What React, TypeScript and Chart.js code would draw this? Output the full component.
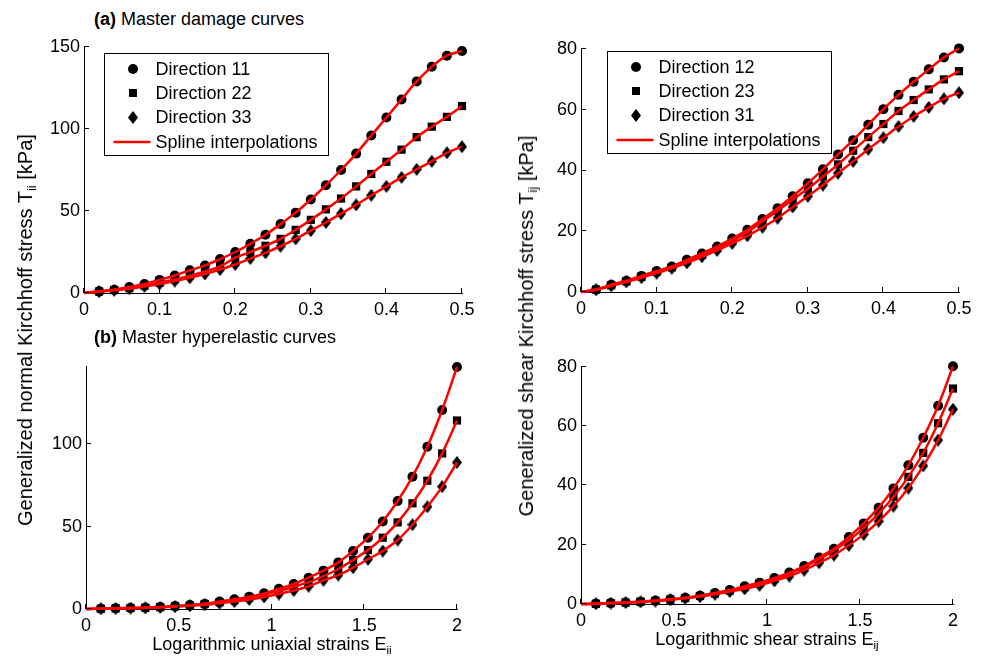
import React, { useEffect, useRef } from "react";
import { Chart, registerables } from "chart.js";

Chart.register(...registerables);

const FONT = '"Liberation Sans", Arial, Helvetica, sans-serif';

// ---------- data ----------
const STRAIN_DAMAGE = [0.02, 0.04, 0.06, 0.08, 0.1, 0.12, 0.14, 0.16, 0.18, 0.2, 0.22, 0.24, 0.26, 0.28, 0.3, 0.32, 0.34, 0.36, 0.38, 0.4, 0.42, 0.44, 0.46, 0.48, 0.5];
const STRAIN_HYPER = [0.08, 0.16, 0.24, 0.32, 0.4, 0.48, 0.56, 0.64, 0.72, 0.8, 0.88, 0.96, 1.04, 1.12, 1.2, 1.28, 1.36, 1.44, 1.52, 1.6, 1.68, 1.76, 1.84, 1.92, 2.0];

const D11_DAMAGE = [1.0, 2.0, 3.6, 5.5, 8.0, 10.7, 13.8, 16.8, 20.7, 25.0, 30.0, 35.5, 42.0, 49.0, 57.0, 65.7, 75.0, 85.0, 96.0, 107.0, 118.0, 129.0, 138.0, 144.7, 147.6];
const D22_DAMAGE = [0.9, 1.8, 3.0, 4.5, 6.3, 8.3, 10.6, 13.2, 16.2, 21.5, 25.0, 28.8, 33.0, 38.5, 44.6, 51.0, 57.6, 65.0, 72.6, 80.0, 87.4, 95.0, 101.4, 107.4, 114.0];
const D33_DAMAGE = [0.8, 1.6, 2.6, 4.0, 5.5, 7.3, 9.3, 11.6, 14.3, 17.4, 21.0, 24.5, 28.5, 33.0, 38.0, 43.0, 48.4, 53.7, 59.6, 65.0, 70.5, 75.4, 80.3, 85.5, 89.2];

const D12_DAMAGE = [0.8, 2.4, 3.7, 5.3, 6.9, 8.4, 10.6, 12.7, 15.0, 17.6, 20.5, 24.0, 27.6, 31.5, 35.8, 40.4, 45.3, 50.0, 55.1, 60.2, 64.9, 69.2, 73.3, 77.2, 80.2];
const D23_DAMAGE = [0.8, 2.2, 3.5, 5.0, 6.6, 8.1, 10.1, 12.2, 14.4, 16.9, 19.7, 23.3, 26.7, 30.4, 34.0, 38.0, 42.0, 46.5, 51.0, 55.3, 59.6, 63.2, 66.7, 70.0, 72.7];
const D31_DAMAGE = [0.7, 2.0, 3.3, 4.7, 6.2, 7.8, 9.6, 11.6, 13.7, 16.0, 18.5, 21.3, 24.3, 28.0, 31.5, 35.2, 39.1, 43.0, 47.0, 50.8, 54.5, 57.8, 60.8, 63.6, 65.6];

const D11_HYPER = [0.2, 0.4, 0.6, 0.8, 1.2, 1.8, 2.4, 3.2, 4.5, 5.9, 7.5, 9.5, 12.3, 15.2, 19.0, 23.3, 28.3, 35.2, 43.3, 53.2, 65.6, 80.4, 98.6, 120.9, 147.0];
const D22_HYPER = [0.2, 0.4, 0.6, 0.8, 1.1, 1.6, 2.2, 3.0, 4.1, 5.3, 6.9, 8.8, 10.9, 13.5, 16.3, 20.0, 24.3, 29.8, 35.8, 43.3, 52.6, 64.2, 77.9, 94.5, 114.5];
const D33_HYPER = [0.2, 0.3, 0.5, 0.7, 1.0, 1.4, 1.9, 2.6, 3.5, 4.5, 5.8, 7.3, 9.1, 11.2, 13.8, 17.4, 20.6, 25.1, 30.2, 35.2, 41.9, 51.2, 62.1, 74.3, 89.0];

const D12_HYPER = [0.1, 0.3, 0.5, 0.8, 1.1, 1.6, 2.1, 2.8, 3.7, 4.7, 6.0, 7.2, 8.8, 10.6, 12.8, 15.7, 18.6, 22.6, 27.2, 32.5, 39.0, 46.8, 56.1, 66.9, 80.2];
const D23_HYPER = [0.1, 0.3, 0.5, 0.8, 1.1, 1.5, 2.0, 2.7, 3.5, 4.5, 5.7, 7.0, 8.5, 10.3, 12.5, 15.1, 18.1, 21.5, 25.7, 30.5, 36.2, 42.9, 51.0, 61.0, 72.7];
const D31_HYPER = [0.1, 0.3, 0.5, 0.7, 1.0, 1.4, 1.9, 2.5, 3.3, 4.2, 5.1, 6.3, 7.8, 9.4, 11.4, 13.9, 16.5, 19.8, 23.5, 27.9, 33.0, 39.1, 46.6, 55.3, 65.7];

const X_TICKS_DAMAGE = [0, 0.1, 0.2, 0.3, 0.4, 0.5];
const X_TICKS_HYPER = [0, 0.5, 1, 1.5, 2];
const Y_TICKS_NORMAL_DAMAGE = [0, 50, 100, 150];
const Y_TICKS_NORMAL_HYPER = [0, 50, 100];
const Y_TICKS_SHEAR = [0, 20, 40, 60, 80];

const LEGEND_NORMAL = ["Direction 11", "Direction 22", "Direction 33", "Spline interpolations"];
const LEGEND_SHEAR = ["Direction 12", "Direction 23", "Direction 31", "Spline interpolations"];

// ---------- layout ----------
type Box = { x: number; y: number; w: number; h: number };
type Area = { l: number; t: number; r: number; b: number };
type Panel = {
  xs: number[];
  series: number[][];
  xMax: number;
  yMax: number;
  xTicks: number[];
  yTicks: number[];
  legend?: string[];
  legendOffset?: { dx: number; dy: number };
  canvas: Box;
  area: Area;
};

const PANELS: Panel[] = [
  {
    xs: STRAIN_DAMAGE, series: [D11_DAMAGE, D22_DAMAGE, D33_DAMAGE], xMax: 0.5, yMax: 150,
    xTicks: X_TICKS_DAMAGE, yTicks: Y_TICKS_NORMAL_DAMAGE, legend: LEGEND_NORMAL, legendOffset: { dx: 20, dy: 6 },
    canvas: { x: 0, y: 30, w: 490, h: 300 }, area: { l: 84, t: 47, r: 462, b: 293 },
  },
  {
    xs: STRAIN_DAMAGE, series: [D12_DAMAGE, D23_DAMAGE, D31_DAMAGE], xMax: 0.5, yMax: 80,
    xTicks: X_TICKS_DAMAGE, yTicks: Y_TICKS_SHEAR, legend: LEGEND_SHEAR, legendOffset: { dx: 26, dy: 2 },
    canvas: { x: 490, y: 30, w: 491, h: 300 }, area: { l: 581, t: 49, r: 959, b: 292 },
  },
  {
    xs: STRAIN_HYPER, series: [D11_HYPER, D22_HYPER, D33_HYPER], xMax: 2, yMax: 147.6,
    xTicks: X_TICKS_HYPER, yTicks: Y_TICKS_NORMAL_HYPER,
    canvas: { x: 0, y: 340, w: 490, h: 300 }, area: { l: 86, t: 366, r: 457, b: 609 },
  },
  {
    xs: STRAIN_HYPER, series: [D12_HYPER, D23_HYPER, D31_HYPER], xMax: 2, yMax: 80.3,
    xTicks: X_TICKS_HYPER, yTicks: Y_TICKS_SHEAR,
    canvas: { x: 490, y: 340, w: 491, h: 300 }, area: { l: 581, t: 366, r: 953, b: 604 },
  },
];

function makeDiamond(): HTMLCanvasElement {
  const c = document.createElement("canvas");
  c.width = 10;
  c.height = 13;
  const g = c.getContext("2d")!;
  g.fillStyle = "#000";
  g.beginPath();
  g.moveTo(5, 0);
  g.lineTo(10, 6.5);
  g.lineTo(5, 13);
  g.lineTo(0, 6.5);
  g.closePath();
  g.fill();
  return c;
}

const inwardTicks = {
  id: "inwardTicks",
  afterDraw(chart: any) {
    const { ctx, chartArea: a, scales } = chart;
    const x = scales.x;
    const y = scales.y;
    ctx.save();
    ctx.strokeStyle = "#000";
    ctx.lineWidth = 1;
    ctx.beginPath();
    for (const t of x.ticks) {
      const px = Math.round(x.getPixelForValue(t.value)) - 0.5;
      ctx.moveTo(px, a.bottom);
      ctx.lineTo(px, a.bottom - 5);
    }
    for (const t of y.ticks) {
      const py = Math.round(y.getPixelForValue(t.value)) - 0.5;
      ctx.moveTo(a.left, py);
      ctx.lineTo(a.left + 5, py);
    }
    ctx.stroke();
    ctx.restore();
  },
};

function drawLegendMarker(ctx: CanvasRenderingContext2D, i: number, cx: number, cy: number, diamond: HTMLCanvasElement) {
  ctx.fillStyle = "#000";
  if (i === 0) {
    ctx.beginPath();
    ctx.arc(cx, cy, 5, 0, Math.PI * 2);
    ctx.fill();
  } else if (i === 1) {
    ctx.fillRect(cx - 4, cy - 4, 8, 8);
  } else {
    ctx.drawImage(diamond, Math.round(cx - diamond.width / 2), Math.round(cy - diamond.height / 2));
  }
}

function boxLegendPlugin(diamond: HTMLCanvasElement) {
  return {
    id: "boxLegend",
    afterDraw(chart: any, _args: any, opts: any) {
      if (!opts || !opts.labels) return;
      const { ctx, chartArea: a } = chart;
      const x0 = Math.round(a.left + opts.dx) + 0.5;
      const y0 = Math.round(a.top + opts.dy) + 0.5;
      const w = 224;
      const h = 102;
      ctx.save();
      ctx.fillStyle = "#fff";
      ctx.fillRect(x0, y0, w, h);
      ctx.strokeStyle = "#000";
      ctx.lineWidth = 1;
      ctx.strokeRect(x0, y0, w, h);
      ctx.font = `18px ${FONT}`;
      ctx.textBaseline = "middle";
      ctx.textAlign = "left";
      opts.labels.forEach((label: string, i: number) => {
        const cy = Math.round(y0 + 15 + i * 24.4);
        if (i < 3) {
          drawLegendMarker(ctx, i, Math.round(x0 + 28), cy, diamond);
        } else {
          ctx.save();
          ctx.strokeStyle = "#ff0000";
          ctx.lineWidth = 2.5;
          ctx.beginPath();
          ctx.moveTo(x0 + 9, cy);
          ctx.lineTo(x0 + 46, cy);
          ctx.stroke();
          ctx.restore();
        }
        ctx.fillStyle = "#000";
        ctx.fillText(label, x0 + 51, cy + 1);
      });
      ctx.restore();
    },
  };
}

function buildConfig(p: Panel, diamond: HTMLCanvasElement): any {
  const datasets: any[] = [];
  const markerStyles: any[] = [
    { pointStyle: "circle", pointRadius: 5 },
    { pointStyle: "rect", pointRadius: 5.8 },
    { pointStyle: diamond, pointRadius: 6 },
  ];
  p.series.forEach((s, i) => {
    datasets.push({
      label: `m${i}`,
      data: p.xs.map((x, j) => ({ x, y: s[j] })),
      showLine: false,
      ...markerStyles[i],
      pointBackgroundColor: "#000",
      pointBorderColor: "#000",
      pointBorderWidth: 0,
      order: 2,
      clip: false,
    });
  });
  p.series.forEach((s, i) => {
    datasets.push({
      label: `s${i}`,
      data: [{ x: 0, y: 0 }, ...p.xs.map((x, j) => ({ x, y: s[j] }))],
      showLine: true,
      borderColor: "#ff0000",
      borderWidth: 2.5,
      pointRadius: 0,
      cubicInterpolationMode: "monotone",
      order: 1,
      clip: false,
    });
  });
  const cv = p.canvas;
  const ar = p.area;
  const tickFont = { family: FONT, size: 18 };
  return {
    type: "scatter",
    data: { datasets },
    options: {
      animation: false,
      responsive: false,
      events: [],
      layout: {
        padding: { left: 0, top: ar.t - cv.y, right: cv.x + cv.w - ar.r, bottom: 0 },
      },
      scales: {
        x: {
          type: "linear",
          min: 0,
          max: p.xMax,
          afterBuildTicks: (s: any) => {
            s.ticks = p.xTicks.map((v) => ({ value: v }));
          },
          afterFit: (s: any) => {
            s.height = cv.y + cv.h - ar.b;
          },
          grid: { display: true, drawOnChartArea: false, drawTicks: false },
          border: { display: true, color: "#000", width: 1 },
          ticks: {
            color: "#000",
            font: tickFont,
            padding: 6,
            autoSkip: false,
            maxRotation: 0,
            callback: (v: number) => String(v),
          },
        },
        y: {
          type: "linear",
          min: 0,
          max: p.yMax,
          afterBuildTicks: (s: any) => {
            s.ticks = p.yTicks.map((v) => ({ value: v }));
          },
          afterFit: (s: any) => {
            s.width = ar.l - cv.x;
          },
          grid: { display: true, drawOnChartArea: false, drawTicks: false },
          border: { display: true, color: "#000", width: 1 },
          ticks: {
            color: "#000",
            font: tickFont,
            padding: 4,
            autoSkip: false,
            callback: (v: number) => String(v),
          },
        },
      },
      plugins: {
        legend: { display: false },
        tooltip: { enabled: false },
        boxLegend: p.legend ? { labels: p.legend, dx: p.legendOffset!.dx, dy: p.legendOffset!.dy } : {},
      },
    },
    plugins: [inwardTicks, boxLegendPlugin(diamond)],
  };
}

const subStyle: React.CSSProperties = { fontSize: "0.65em", verticalAlign: "-0.3em", lineHeight: 0 };

export default function App() {
  const canvases = useRef<(HTMLCanvasElement | null)[]>([]);

  useEffect(() => {
    const diamond = makeDiamond();
    const charts = PANELS.map((p, i) => new Chart(canvases.current[i]!, buildConfig(p, diamond)));
    return () => charts.forEach((c) => c.destroy());
  }, []);

  const textBase: React.CSSProperties = {
    position: "absolute",
    fontFamily: FONT,
    fontSize: "18px",
    lineHeight: 1,
    whiteSpace: "nowrap",
    color: "#000",
  };

  return (
    <div style={{ position: "absolute", left: 0, top: 0, width: 981, height: 657, background: "#fff", overflow: "hidden" }}>
      {PANELS.map((p, i) => (
        <canvas
          key={i}
          ref={(el) => {
            canvases.current[i] = el;
          }}
          width={p.canvas.w}
          height={p.canvas.h}
          style={{ position: "absolute", left: p.canvas.x, top: p.canvas.y, width: p.canvas.w, height: p.canvas.h }}
        />
      ))}
      <div style={{ ...textBase, left: 94, top: 10 }}>
        <b>(a)</b> Master damage curves
      </div>
      <div style={{ ...textBase, left: 94, top: 328 }}>
        <b>(b)</b> Master hyperelastic curves
      </div>
      <div style={{ ...textBase, fontSize: "20px", left: 25, top: 330, transform: "translate(-50%, -50%) rotate(-90deg)" }}>
        Generalized normal Kirchhoff stress T<span style={subStyle}>ii</span> [kPa]
      </div>
      <div style={{ ...textBase, fontSize: "20px", left: 526, top: 326, transform: "translate(-50%, -50%) rotate(-90deg)" }}>
        Generalized shear Kirchhoff stress T<span style={subStyle}>ij</span> [kPa]
      </div>
      <div style={{ ...textBase, left: 272, top: 635, transform: "translateX(-50%)" }}>
        Logarithmic uniaxial strains E<span style={subStyle}>ii</span>
      </div>
      <div style={{ ...textBase, left: 767, top: 630, transform: "translateX(-50%)" }}>
        Logarithmic shear strains E<span style={subStyle}>ij</span>
      </div>
    </div>
  );
}
